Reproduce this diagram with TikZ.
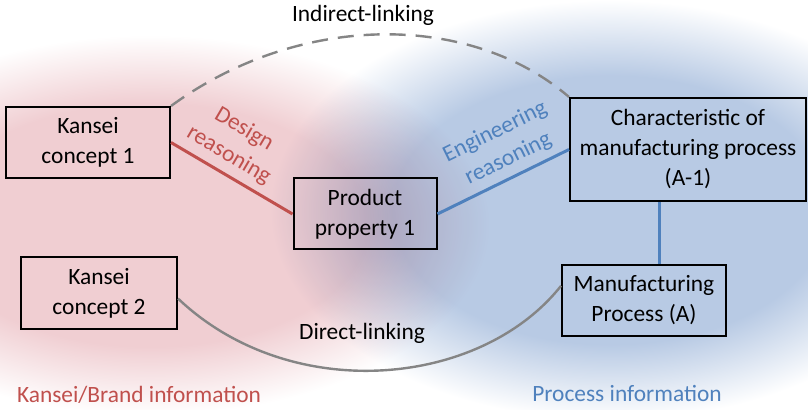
\documentclass[tikz,border=0pt]{standalone}
\usepackage{fontspec}
\setmainfont{Carlito}
\usetikzlibrary{positioning,calc}
\definecolor{kred}{RGB}{192,80,77}
\definecolor{kblue}{RGB}{79,129,189}
\definecolor{pinkbg}{RGB}{240,206,210}
\definecolor{bluebg}{RGB}{184,202,228}
\definecolor{linkgray}{gray}{0.52}
\pgfdeclareradialshading{pinkglow}{\pgfpoint{0bp}{0bp}}{color(0bp)=(pinkbg); color(16bp)=(pinkbg); color(25bp)=(white); color(50bp)=(white)}
\pgfdeclareradialshading{blueglow}{\pgfpoint{0bp}{0bp}}{color(0bp)=(bluebg); color(16bp)=(bluebg); color(25bp)=(white); color(50bp)=(white)}

\begin{document}
\begin{tikzpicture}[x=0.5pt,y=-0.5pt,font=\fontsize{11.7}{15}\selectfont]
\tikzset{
  box/.style={draw,line width=1pt,align=center,inner sep=0pt},
  redline/.style={draw=kred,line width=1.5pt},
  blueline/.style={draw=kblue,line width=1.5pt},
  indirect/.style={draw=linkgray,line width=1.2pt,dash pattern=on 8pt off 5pt},
  direct/.style={draw=linkgray,line width=1.2pt}
}
\fill[white] (0,0) rectangle (808,410);
\useasboundingbox (0,0) rectangle (808,410);
% background glow
\begin{scope}[blend mode=multiply]
\shade[shading=pinkglow] (150,225) ellipse (170pt and 95pt);
\shade[shading=blueglow] (610,210) ellipse (170pt and 105pt);
\end{scope}

\node[box,minimum width=82pt,minimum height=35.5pt] (k1) at (88,142.5) {Kansei\\concept 1};
\node[box,minimum width=71.5pt,minimum height=35.5pt] (pp) at (365,214) {Product\\property 1};
\node[box,minimum width=118pt,minimum height=51.5pt] (cmp) at (688,149.5) {Characteristic of\\manufacturing process\\(A-1)};
\node[box,minimum width=78pt,minimum height=36pt] (k2) at (99,293) {Kansei\\concept 2};
\node[box,minimum width=82pt,minimum height=35.5pt] (mp) at (644,300.5) {Manufacturing\\Process (A)};
\coordinate (vlink) at (659,0);

\draw[redline] (k1.east) -- node[pos=0.4,sloped,above,text=kred,align=center] {Design\\reasoning} (pp.west);
\draw[blueline] (pp.east) -- node[pos=0.6,sloped,above,text=kblue,align=center] {Engineering\\reasoning} (cmp.west);
\draw[blueline] (cmp.south -| vlink) -- (mp.north -| vlink);
\draw[indirect] (k1.north east) .. controls (300,12) and (470,12) .. (cmp.north west);
\draw[direct] (k2.-4) .. controls (290,405) and (480,388) .. (mp.170);

\node (indirect) at (363,15) {Indirect-linking};
\node (direct) at (362,333) {Direct-linking};
\node[text=kred] (kinfo) at (139,395) {Kansei/Brand information};
\node[text=kblue] (pinfo) at (627,393) {Process information};
\end{tikzpicture}
\end{document}
